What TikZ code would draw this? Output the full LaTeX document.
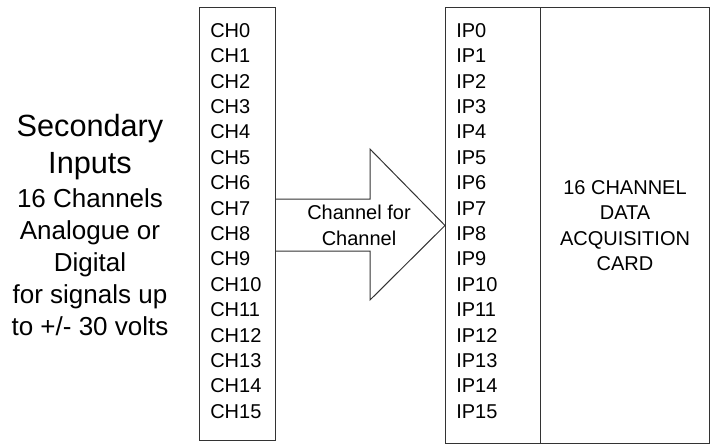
\documentclass[tikz,border=0pt]{standalone}
\usepackage{fontspec}
\setmainfont{Liberation Sans}
\usetikzlibrary{positioning}
\begin{document}
\begin{tikzpicture}[x=0.75pt,y=-0.75pt,
    panel/.style={draw=black!80, line width=0.75pt, inner sep=0pt},
    pinlabel/.style={anchor=base west, inner sep=0pt, font=\fontsize{15}{18}\selectfont},
    cardtext/.style={anchor=base, inner sep=0pt, font=\fontsize{15}{18}\selectfont},
    bigtext/.style={anchor=base, inner sep=0pt, font=\fontsize{23}{28}\selectfont},
    midtext/.style={anchor=base, inner sep=0pt, font=\fontsize{19.5}{24}\selectfont}]
    \useasboundingbox (0,0) rectangle (712,444);

    % Caselle dei canali
    \node (chbox) [panel, anchor=north west, minimum width=57pt, minimum height=324.75pt] at (199,7) {};
    \node (ipbox) [panel, anchor=north west, minimum width=71.25pt, minimum height=327pt] at (445,7) {};
    \node (card) [panel, anchor=north west, minimum width=126.75pt, minimum height=327pt] at (540,7) {};

    % Etichette dei canali
    \foreach \i in {0,...,15} {
        \node (ch\i) [pinlabel] at (210,37.3+25.4*\i) {CH\i};
        \node (ip\i) [pinlabel] at (456,37.3+25.4*\i) {IP\i};
    }

    % Testo della scheda
    \node (card1) [cardtext] at (card.center |- 0,194) {16 CHANNEL};
    \node (card2) [cardtext] at (card.center |- 0,219.5) {DATA};
    \node (card3) [cardtext] at (card.center |- 0,245) {ACQUISITION};
    \node (card4) [cardtext] at (card.center |- 0,270.5) {CARD};

    % Freccia
    \coordinate (tip) at (ipbox.west);
    \draw[panel] (chbox.east |- 0,199) -- (370,199) -- (370,149) -- (tip)
        -- (370,300) -- (370,251) -- (chbox.east |- 0,251);
    \node (arrow1) [cardtext] at (359,219.3) {Channel for};
    \node (arrow2) [cardtext] at (359,245) {Channel};

    % Descrizione degli ingressi
    \node (title1) [bigtext] at (90,136) {Secondary};
    \node (title2) [bigtext] at (90,173.5) {Inputs};
    \node (info1) [midtext] at (90,207) {16 Channels};
    \node (info2) [midtext] at (90,239) {Analogue or};
    \node (info3) [midtext] at (90,271) {Digital};
    \node (info4) [midtext] at (90,303) {for signals up};
    \node (info5) [midtext] at (90,335) {to +/- 30 volts};
\end{tikzpicture}
\end{document}
